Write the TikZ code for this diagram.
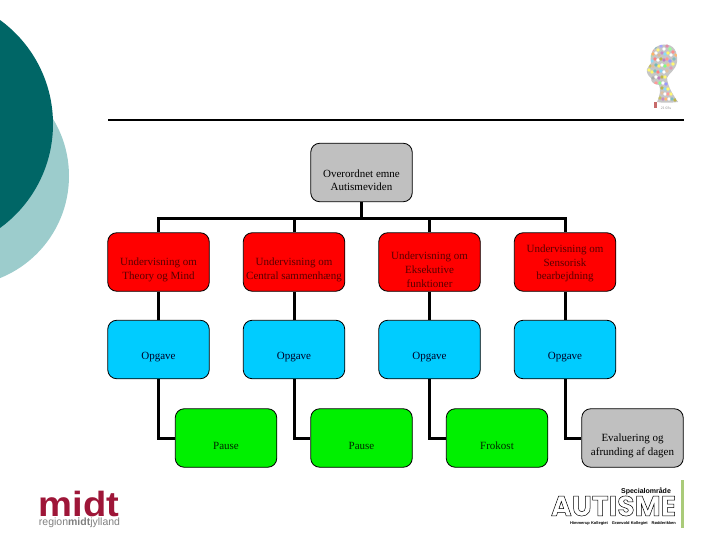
\documentclass[tikz,border=0pt]{standalone}
\usepackage{fontspec}
\setmainfont{Liberation Serif}
\newfontfamily\logofont{Liberation Sans}
\newfontfamily\autfont[LetterSpace=1]{Poppins}
\definecolor{tealdark}{RGB}{0,102,102}
\definecolor{teallight}{RGB}{156,204,204}
\definecolor{boxred}{RGB}{255,0,0}
\definecolor{boxblue}{RGB}{0,204,255}
\definecolor{boxgreen}{RGB}{0,240,0}
\definecolor{boxgray}{RGB}{192,192,192}
\definecolor{midtred}{RGB}{158,22,56}
\newcommand{\blankln}{\strut\\}
\newcommand{\outlined}[1]{\special{pdf:code q 1 Tr 0.5 w 0 0 0 RG}#1\special{pdf:code Q}}
\tikzset{
  box/.style={draw=black,line width=0.8pt,rounded corners=9pt,minimum width=101.5pt,minimum height=58.5pt,inner sep=0pt,align=center,font=\fontsize{11}{13.6}\selectfont,text=black},
  redbox/.style={box,fill=boxred,text=black!65!red},
  bluebox/.style={box,fill=boxblue,text=black!85!blue},
  greenbox/.style={box,fill=boxgreen,text=black!85!green},
  graybox/.style={box,fill=boxgray},
  conn/.style={line width=3pt,line cap=butt,line join=miter},
}
\begin{document}
\begin{tikzpicture}[x=1pt,y=-1pt]
\useasboundingbox (0,0) rectangle (720,540);
% background circles
\begin{scope}
\clip (0,0) rectangle (720,540);
\fill[teallight] (-41,176) circle[radius=110];
\fill[tealdark] (-75.5,124) circle[radius=128.5];
\end{scope}
\draw[line width=2pt] (108,120) -- (684,120);
% boxes
\node[graybox] (top) at (361.5,172.5) {\blankln Overordnet emne\\Autismeviden};
\node[redbox] (r1) at (158.5,262) {\blankln Undervisning om\\Theory og Mind};
\node[redbox] (r2) at (294,262) {\blankln Undervisning om\\Central sammenhæng};
\node[redbox] (r3) at (429.5,262) {\blankln Undervisning om\\Eksekutive\\funktioner};
\node[redbox] (r4) at (565,262) {\rule{0pt}{11pt}Undervisning om\\Sensorisk\\bearbejdning};
\node[bluebox] (b1) at (158.5,349.5) {\blankln Opgave};
\node[bluebox] (b2) at (294,349.5) {\blankln Opgave};
\node[bluebox] (b3) at (429.5,349.5) {\blankln Opgave};
\node[bluebox] (b4) at (565,349.5) {\blankln Opgave};
\node[greenbox] (g1) at (226,438) {\blankln Pause};
\node[greenbox] (g2) at (361.5,438) {\blankln Pause};
\node[greenbox] (g3) at (497,438) {\blankln Frokost};
\node[graybox] (g4) at (632.5,438) {\blankln Evaluering og\\afrunding af dagen};
% connectors
\coordinate (bus) at (0,218.5);
\draw[conn] (top.south) -- (top.south |- bus);
\draw[conn] (r1.north) -- (r1.north |- bus) -- (r4.north |- bus) -- (r4.north);
\draw[conn] (r2.north) -- (r2.north |- bus);
\draw[conn] (r3.north) -- (r3.north |- bus);
\draw[conn] (r1) -- (b1);
\draw[conn] (r2) -- (b2);
\draw[conn] (r3) -- (b3);
\draw[conn] (r4) -- (b4);
\draw[conn] (b1.south) |- (g1.west);
\draw[conn] (b2.south) |- (g2.west);
\draw[conn] (b3.south) |- (g3.west);
\draw[conn] (b4.south) |- (g4.west);
% head logo
\begin{scope}
\clip (651,63) .. controls (649,52) and (655,45) .. (664,44.5) .. controls (674,44) and (678,52) .. (677,62) .. controls (676,70) and (668,74) .. (667,78) .. controls (668,88) and (674,96) .. (678,102) .. controls (670,103) and (662,103) .. (657,102) .. controls (660,95) and (661,90) .. (659,85) .. controls (654,84) and (651,83) .. (651,78) .. controls (648,76) and (646,72) .. (647,69) -- cycle;
\fill[gray!45] (640,40) rectangle (685,105);
\foreach \x/\y/\c in {649/70/yellow!55,652/50/red!50,655/47/teal!60,658/50/yellow!50,661/46/blue!35,664/49/white,667/46/purple!45,670/49/green!40,673/52/red!45,676/55/orange!55,650/56/green!45,653/54/orange!60,656/53/white,659/55/brown!55,662/53/violet!45,665/54/cyan!45,668/53/yellow!60,671/55/white,674/59/teal!50,652/61/cyan!45,655/59/red!50,658/60/white,661/59/olive!60,664/60/violet!50,667/59/red!40,670/61/blue!40,673/64/yellow!55,650/66/olive!50,653/66/brown!50,656/65/teal!55,659/66/yellow!60,662/65/white,665/66/green!50,668/65/orange!50,671/68/purple!40,652/72/yellow!60,655/71/teal!50,658/72/red!50,661/71/cyan!50,664/72/white,667/71/brown!50,653/78/gray!65,656/77/white,659/78/violet!50,662/77/olive!60,665/77/yellow!55,656/83/red!40,660/83/green!45,663/83/white,666/84/blue!40,662/88/olive!60,665/89/cyan!45,668/89/yellow!55,662/93/brown!50,665/94/white,668/94/red!40,671/94/yellow!55,660/98/olive!50,663/99/violet!45,666/99/orange!55,669/99/white,672/99/teal!50,675/100/olive!60}
  \fill[\c] (\x,\y) circle[radius=1.9];
\end{scope}
\fill[red!45!gray!80] (654,102) rectangle (657,108);
\node[font=\fontsize{3.8}{4}\selectfont,text=gray,inner sep=0pt] (headlabel) at (666,108.5) {21 03s};
% midt logo
\node[font=\logofont\bfseries\fontsize{35}{35}\selectfont,text=midtred,inner sep=0pt,xscale=1.09] (midtlogo) at (79,504) {midt};
\node[font=\logofont\fontsize{10.5}{10.5}\selectfont,text=gray,inner sep=0pt] (midtsub) at (79.5,523) {region\textbf{midt}jylland};
% autisme logo
\node[font=\logofont\bfseries\fontsize{7}{7}\selectfont,inner sep=0pt] (spec) at (646,491) {Specialområde};
\node[font=\autfont\bfseries\fontsize{28}{28}\selectfont,inner sep=0pt] (aut) at (613.5,506) {\outlined{AUTISME}};
\node[font=\logofont\bfseries\fontsize{4}{5}\selectfont,inner sep=0pt] (sub) at (623,523) {Himmerup Kollegiet\quad Grønvold Kollegiet\quad Rødderikken};
\fill[olive!50!green!50] (681,480) rectangle (683.5,528);
\end{tikzpicture}
\end{document}
